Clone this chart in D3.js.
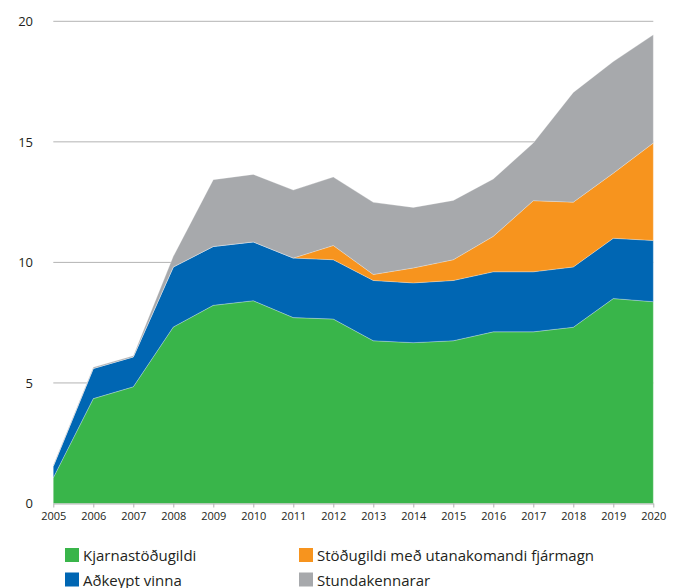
<!DOCTYPE html>
<html>
<head>
<meta charset="utf-8">
<script src="https://cdn.jsdelivr.net/npm/d3@7"></script>
<style>
  body { margin: 0; background: #fff; }
  svg text { font-family: "Open Sans", sans-serif; fill: #231f20; }
</style>
</head>
<body>
<div id="chart"></div>
<script>
// years on the x axis
const years = d3.range(2005, 2021);

// values per series (stacked bottom to top)
const kjarnastodugildi = [1.07, 4.35, 4.84, 7.32, 8.22, 8.41, 7.71, 7.65, 6.75, 6.67, 6.75, 7.12, 7.12, 7.31, 8.50, 8.37];
const adkeyptVinna     = [0.48, 1.25, 1.24, 2.49, 2.44, 2.44, 2.47, 2.46, 2.50, 2.48, 2.50, 2.49, 2.49, 2.50, 2.50, 2.54];
const utanakomandi     = [0, 0, 0, 0, 0, 0, 0, 0.59, 0.25, 0.62, 0.86, 1.47, 2.95, 2.69, 2.70, 4.04];
const stundakennarar   = [0.05, 0.05, 0.05, 0.44, 2.77, 2.80, 2.82, 2.84, 2.99, 2.51, 2.46, 2.38, 2.39, 4.55, 4.63, 4.49];

const seriesNames = ["Kjarnastöðugildi", "Aðkeypt vinna", "Stöðugildi með utanakomandi fjármagn", "Stundakennarar"];
const seriesColors = ["#39b54a", "#0066b3", "#f7941e", "#a7a9ac"];
const yTicks = [0, 5, 10, 15, 20];

const width = 680, height = 588;

const svg = d3.select("#chart").append("svg")
  .attr("width", width)
  .attr("height", height);

const x = d3.scaleLinear().domain([2005, 2020]).range([53.3, 653.3]);
const y = d3.scaleLinear().domain([0, 20]).range([503.5, 21.3]);

// build rows for the stack
const keys = ["k", "a", "u", "s"];
const rows = years.map((yr, i) => ({
  year: yr,
  k: kjarnastodugildi[i],
  a: adkeyptVinna[i],
  u: utanakomandi[i],
  s: stundakennarar[i]
}));
const stacked = d3.stack().keys(keys)(rows);

// gridlines
svg.append("g")
  .selectAll("line")
  .data(yTicks.filter(d => d > 0))
  .enter().append("line")
  .attr("x1", x(2005)).attr("x2", x(2020))
  .attr("y1", d => y(d)).attr("y2", d => y(d))
  .attr("stroke", "#b3b3b3")
  .attr("stroke-width", 1);

// stacked areas
const area = d3.area()
  .x(d => x(d.data.year))
  .y0(d => y(d[0]))
  .y1(d => y(d[1]));

svg.append("g")
  .selectAll("path")
  .data(stacked)
  .enter().append("path")
  .attr("d", area)
  .attr("fill", (d, i) => seriesColors[i])
  .attr("stroke", "#ffffff")
  .attr("stroke-opacity", 0.5)
  .attr("stroke-width", 0.5);

// x axis
const xAxis = svg.append("g")
  .attr("transform", `translate(0,${y(0)})`)
  .call(d3.axisBottom(x).tickValues(years).tickFormat(d3.format("d")).tickSize(4).tickSizeOuter(0));
xAxis.select(".domain").attr("stroke", "#b3b3b3");
xAxis.selectAll(".tick line").attr("stroke", "#b3b3b3");
xAxis.selectAll("text")
  .attr("font-size", 11)
  .attr("dy", "0.9em")
  .style("font-family", "'Open Sans', sans-serif")
  .attr("fill", "#231f20");

// y axis labels
const yAxis = svg.append("g")
  .attr("transform", "translate(33,0)")
  .call(d3.axisLeft(y).tickValues(yTicks).tickSize(0));
yAxis.select(".domain").remove();
yAxis.selectAll("text")
  .attr("x", 0)
  .attr("font-size", 13)
  .style("font-family", "'Open Sans', sans-serif")
  .attr("fill", "#231f20");

// legend
const legendPos = [
  { x: 65, y: 548 },
  { x: 65, y: 572.5 },
  { x: 299, y: 548 },
  { x: 299, y: 572.5 }
];
const legend = svg.append("g")
  .selectAll("g")
  .data(seriesNames)
  .enter().append("g")
  .attr("transform", (d, i) => `translate(${legendPos[i].x},${legendPos[i].y})`);

legend.append("rect")
  .attr("width", 14)
  .attr("height", 14)
  .attr("fill", (d, i) => seriesColors[i]);

legend.append("text")
  .attr("x", 18)
  .attr("y", 13)
  .attr("font-size", 15)
  .text(d => d);
</script>
</body>
</html>
